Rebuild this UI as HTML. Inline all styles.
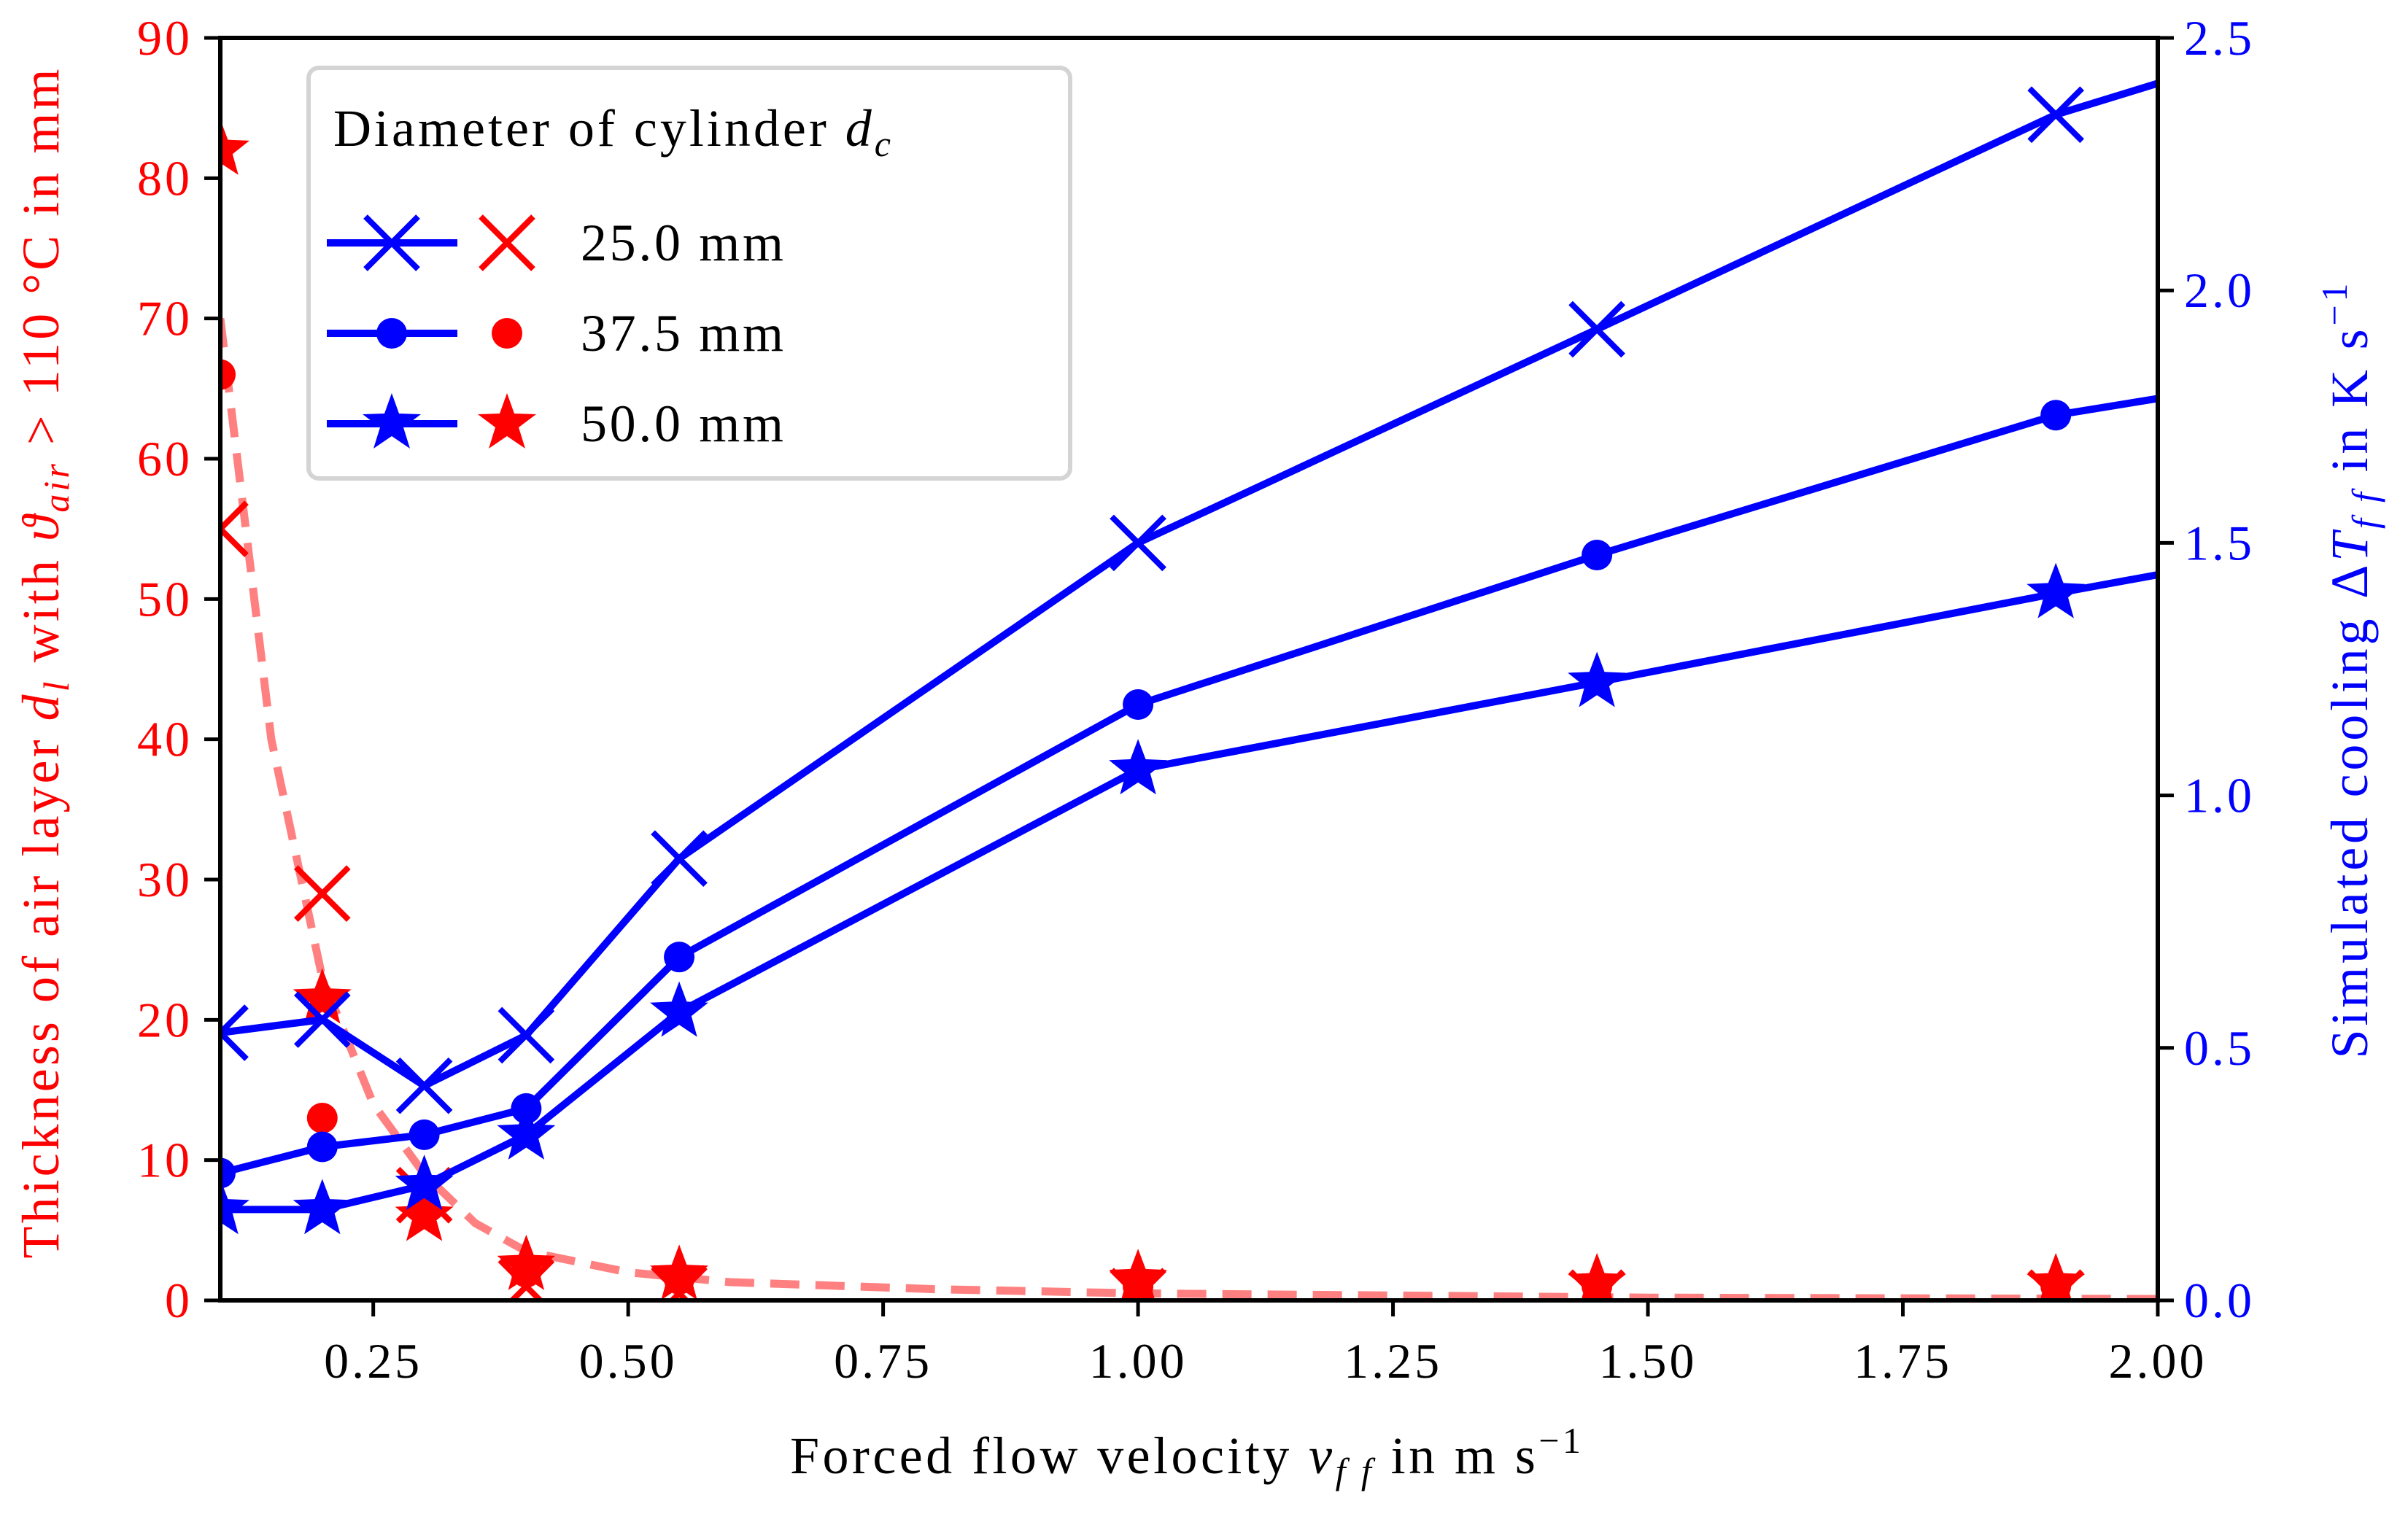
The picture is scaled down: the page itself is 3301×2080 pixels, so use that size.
<!DOCTYPE html>
<html><head><meta charset="utf-8"><style>
html,body{margin:0;padding:0;background:#fff}
svg{display:block}
text{font-family:"Liberation Serif",serif}
</style></head><body>
<svg id="chart" width="3301" height="2080" viewBox="0 0 3301 2080" xmlns="http://www.w3.org/2000/svg"></svg>
<script>
const xVals=[0.1,0.2,0.3,0.4,0.55,1.0,1.45,1.9];
const redCross=[55,29,7.5,1,0.5,0.3,0.2,0.2];
const redCircle=[66,13,6.5,2,1.5,1,1,1];
const redStar=[82,21.5,6,2.5,1.8,1.5,1.2,1.2];
const fitX=[0.1,0.15,0.2,0.25,0.3,0.35,0.4,0.5,0.6,0.8,1.0,1.5,2.0];
const fitY=[70,40,23,14,9,5.5,3.5,2,1.3,0.8,0.5,0.2,0.1];
const blueX=[0.1,0.2,0.3,0.4,0.55,1.0,1.45,1.9,2.0];
const blueCross=[0.53,0.556,0.425,0.525,0.875,1.50,1.923,2.348,2.41];
const blueCircle=[0.252,0.304,0.328,0.38,0.68,1.18,1.476,1.753,1.786];
const blueStar=[0.18,0.18,0.228,0.328,0.571,1.051,1.224,1.40,1.437];
const xTicks=[0.25,0.5,0.75,1.0,1.25,1.5,1.75,2.0];
const xTickLabels=["0.25","0.50","0.75","1.00","1.25","1.50","1.75","2.00"];
const yLTicks=[0,10,20,30,40,50,60,70,80,90];
const yRTicks=[0,0.5,1.0,1.5,2.0,2.5];
const yRTickLabels=["0.0","0.5","1.0","1.5","2.0","2.5"];

const L=302,R=2958,T=52,B=1783;
const sx=v=>L+(v-0.1)/(2.0-0.1)*(R-L);
const syL=v=>B-v/90*(B-T);
const syR=v=>B-v/2.5*(B-T);
const svg=document.getElementById('chart');
const NS='http://www.w3.org/2000/svg';
function el(tag,attrs,parent){const e=document.createElementNS(NS,tag);for(const k in attrs)e.setAttribute(k,attrs[k]);(parent||svg).appendChild(e);return e;}

const defs=el('defs',{});
const cp=el('clipPath',{id:'clip'},defs);
el('rect',{x:L,y:T,width:R-L,height:B-T},cp);
const plot=el('g',{'clip-path':'url(#clip)'});



function starPts(cx,cy,r){let p=[];for(let i=0;i<10;i++){const a=-Math.PI/2+i*Math.PI/5;const rr=i%2?r*0.42:r;p.push((cx+rr*Math.cos(a)).toFixed(1)+','+(cy+rr*Math.sin(a)).toFixed(1));}return p.join(' ');}
function marker(g,type,cx,cy,color,name){
  let m;
  if(type==='x'){const s=36;m=el('path',{d:`M${cx-s},${cy-s}L${cx+s},${cy+s}M${cx-s},${cy+s}L${cx+s},${cy-s}`,stroke:color,'stroke-width':8,fill:'none'},g);}
  else if(type==='o'){m=el('circle',{cx:cx,cy:cy,r:21,fill:color},g);}
  else {m=el('polygon',{points:starPts(cx,cy,42),fill:color},g);}
  
  
  return m;
}

const fitD=fitX.map((x,i)=>(i?'L':'M')+sx(x).toFixed(1)+','+syL(fitY[i]).toFixed(1)).join('');
const fit=el('path',{d:fitD,fill:'none',stroke:'#ff8080','stroke-width':11,'stroke-dasharray':'40,22'},plot);



[['x',redCross,'red-cross'],['o',redCircle,'red-circle'],['s',redStar,'red-star']].forEach(([t,arr,n])=>{
  const g=el('g',{},plot);
  
  
  arr.forEach((v,i)=>marker(g,t,sx(xVals[i]),syL(v),'#ff0000',n+'-point'));
});

[['x',blueCross,'blue-cross'],['o',blueCircle,'blue-circle'],['s',blueStar,'blue-star']].forEach(([t,arr,n])=>{
  const g=el('g',{},plot);
  
  
  const d=arr.map((v,i)=>(i?'L':'M')+sx(blueX[i]).toFixed(1)+','+syR(v).toFixed(1)).join('');
  const ln=el('path',{d:d,fill:'none',stroke:'#0000ff','stroke-width':10,'stroke-linejoin':'round'},g);
  
  
  arr.forEach((v,i)=>{if(i<8)marker(g,t,sx(blueX[i]),syR(v),'#0000ff',n+'-point');});
});

const ax=el('g',{});


el('rect',{x:L,y:T,width:R-L,height:B-T,fill:'none',stroke:'#000','stroke-width':6},ax);
xTicks.forEach((v,i)=>{
  const x=sx(v);
  el('line',{x1:x,y1:B,x2:x,y2:B+22,stroke:'#000','stroke-width':5},ax);
  const t=el('text',{x:x,y:B+106,'font-size':68,'letter-spacing':4,'text-anchor':'middle',fill:'#000'},ax);
  t.textContent=xTickLabels[i];
  
  
});
yLTicks.forEach(v=>{
  const y=syL(v);
  el('line',{x1:L,y1:y,x2:L-22,y2:y,stroke:'#000','stroke-width':5},ax);
  const t=el('text',{x:L-38,y:y+23,'font-size':68,'letter-spacing':4,'text-anchor':'end',fill:'#ff0000'},ax);
  t.textContent=v;
  
  
});
yRTicks.forEach((v,i)=>{
  const y=syR(v);
  el('line',{x1:R,y1:y,x2:R+22,y2:y,stroke:'#000','stroke-width':5},ax);
  const t=el('text',{x:R+36,y:y+23,'font-size':68,'letter-spacing':4,'text-anchor':'start',fill:'#0000ff'},ax);
  t.textContent=yRTickLabels[i];
  
  
});
</script>
<svg width="3301" height="2080" style="position:absolute;left:0;top:0" xmlns="http://www.w3.org/2000/svg">
<text x="1625" y="2020" font-size="72" text-anchor="middle" textLength="1084" lengthAdjust="spacing" font-family="Liberation Serif, serif">Forced flow velocity <tspan font-style="italic">v</tspan><tspan font-style="italic" font-size="50" dy="14">f f</tspan><tspan dy="-14"> in m s</tspan><tspan font-size="50" dy="-28">−1</tspan></text>
<text transform="translate(80,910) rotate(-90)" font-size="72" text-anchor="middle" textLength="1631" lengthAdjust="spacing" fill="#ff0000" font-family="Liberation Serif, serif">Thickness of air layer <tspan font-style="italic">d</tspan><tspan font-style="italic" font-size="50" dy="14">l</tspan><tspan dy="-14"> with </tspan><tspan font-style="italic">ϑ</tspan><tspan font-style="italic" font-size="50" dy="14">air</tspan><tspan dy="-14"> &gt; 110 °C in mm</tspan></text>
<text transform="translate(3245,920) rotate(-90)" font-size="72" text-anchor="middle" textLength="1063" lengthAdjust="spacing" fill="#0000ff" font-family="Liberation Serif, serif">Simulated cooling Δ<tspan font-style="italic">T</tspan><tspan font-style="italic" font-size="50" dy="14">f f</tspan><tspan dy="-14"> in K s</tspan><tspan font-size="50" dy="-28">−1</tspan></text>
<g>
<rect x="423" y="93" width="1044" height="563" rx="14" fill="#fff" fill-opacity="0.8" stroke="#d4d4d4" stroke-width="6"/>
<text x="457" y="200" font-size="72" textLength="764" lengthAdjust="spacing" font-family="Liberation Serif, serif">Diameter of cylinder <tspan font-style="italic">d</tspan><tspan font-style="italic" font-size="50" dy="14">c</tspan></text>
<g>
<line x1="448" y1="333" x2="627" y2="333" stroke="#0000ff" stroke-width="10"/>
<path d="M501,297L573,369M501,369L573,297" stroke="#0000ff" stroke-width="8"/>
<path d="M659,297L731,369M659,369L731,297" stroke="#ff0000" stroke-width="8"/>
<text x="796" y="357" font-size="72" textLength="278" lengthAdjust="spacing" font-family="Liberation Serif, serif">25.0 mm</text>
</g>
<g>
<line x1="448" y1="457" x2="627" y2="457" stroke="#0000ff" stroke-width="10"/>
<circle cx="537" cy="457" r="21" fill="#0000ff"/>
<circle cx="695" cy="457" r="21" fill="#ff0000"/>
<text x="796" y="481" font-size="72" textLength="278" lengthAdjust="spacing" font-family="Liberation Serif, serif">37.5 mm</text>
</g>
<g>
<line x1="448" y1="581" x2="627" y2="581" stroke="#0000ff" stroke-width="10"/>
<polygon points="537,539 547,567 577,568 553,586 562,615 537,598 512,615 521,586 497,568 527,567" fill="#0000ff"/>
<polygon points="695,539 705,567 735,568 711,586 720,615 695,598 670,615 679,586 655,568 685,567" fill="#ff0000"/>
<text x="796" y="605" font-size="72" textLength="278" lengthAdjust="spacing" font-family="Liberation Serif, serif">50.0 mm</text>
</g>
</g>
</svg>
</body></html>
